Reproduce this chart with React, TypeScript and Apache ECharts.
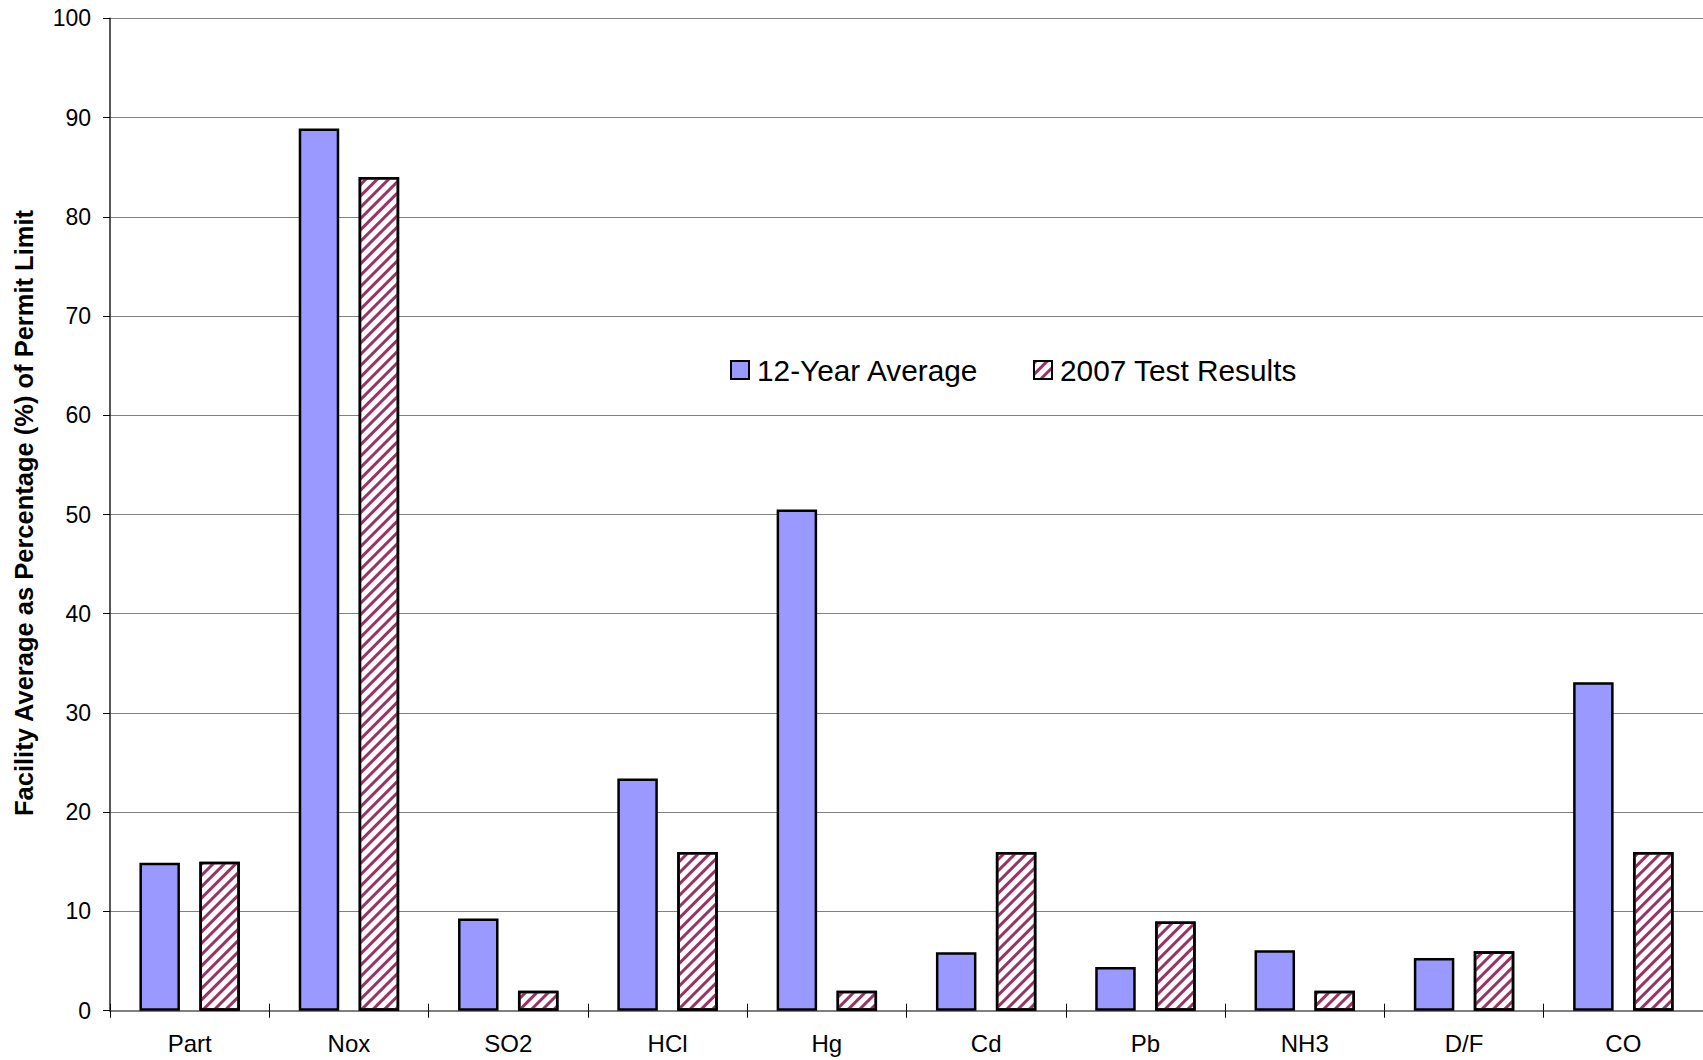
import React, { useEffect, useRef } from "react";
import * as echarts from "echarts";

const categories = ["Part", "Nox", "SO2", "HCl", "Hg", "Cd", "Pb", "NH3", "D/F", "CO"];
const avg12Year = [14.9, 88.9, 9.3, 23.4, 50.5, 5.9, 4.4, 6.1, 5.3, 33.1];
const test2007 = [15.0, 84.0, 2.0, 16.0, 2.0, 16.0, 9.0, 2.0, 6.0, 16.0];
const seriesNames = ["12-Year Average", "2007 Test Results"];
const yAxisTitle = "Facility Average as Percentage (%) of Permit Limit";
const yMin = 0;
const yMax = 100;
const yInterval = 10;

const FONT = '"Liberation Sans", Arial, sans-serif';

export default function App() {
  const ref = useRef<HTMLDivElement>(null);

  useEffect(() => {
    if (!ref.current) return;
    const chart = echarts.init(ref.current, null, { renderer: "svg" });
    const legendText = { fontSize: 29.8, color: "#000", fontFamily: FONT, padding: [0, 0, 0, 3] };
    const option: any = {
      animation: false,
      backgroundColor: "#ffffff",
      textStyle: { fontFamily: FONT, color: "#000" },
      grid: { left: 110, right: -3, top: 18.3, bottom: 49.3, containLabel: false },
      legend: [
        {
          data: [seriesNames[0]],
          left: 730,
          top: 355,
          padding: 0,
          itemWidth: 18,
          itemHeight: 18,
          icon: "rect",
          textStyle: legendText,
        },
        {
          data: [seriesNames[1]],
          left: 1033,
          top: 355,
          padding: 0,
          itemWidth: 18,
          itemHeight: 18,
          icon: "rect",
          textStyle: legendText,
        },
      ],
      xAxis: [
        {
          type: "category",
          data: categories,
          position: "bottom",
          axisLine: { show: true, lineStyle: { color: "#808080", width: 2 } },
          axisTick: { show: true, inside: false, length: 7, alignWithLabel: false, lineStyle: { color: "#000", width: 1 } },
          axisLabel: { show: true, fontSize: 24, color: "#000", margin: 21, fontFamily: FONT },
          splitLine: { show: false },
        },
        {
          type: "category",
          data: categories,
          position: "bottom",
          axisLine: { show: false },
          axisTick: { show: true, inside: true, length: 7, alignWithLabel: false, lineStyle: { color: "#000", width: 1 } },
          axisLabel: { show: false },
          splitLine: { show: false },
        },
      ],
      yAxis: {
        type: "value",
        min: yMin,
        max: yMax,
        interval: yInterval,
        axisLine: { show: true, lineStyle: { color: "#222", width: 1.5 } },
        axisTick: { show: true, inside: false, length: 7, lineStyle: { color: "#000", width: 1 } },
        axisLabel: { fontSize: 23, color: "#000", margin: 19, fontFamily: FONT },
        splitLine: { show: true, lineStyle: { color: "#808080", width: 1.2 } },
      },
      graphic: [
        {
          type: "text",
          x: 24,
          y: 513,
          rotation: Math.PI / 2,
          style: {
            text: yAxisTitle,
            fontSize: 25.5,
            fontWeight: "bold",
            fontFamily: FONT,
            fill: "#000",
            align: "center",
            verticalAlign: "middle",
          },
        },
      ],
      series: [
        {
          name: seriesNames[0],
          type: "bar",
          xAxisIndex: 0,
          data: avg12Year,
          barWidth: 40.5,
          barGap: "48%",
          itemStyle: { color: "#9999FF", borderColor: "#000", borderWidth: 2.5 },
        },
        {
          name: seriesNames[1],
          type: "bar",
          xAxisIndex: 0,
          data: test2007,
          barWidth: 40.5,
          barGap: "48%",
          itemStyle: {
            color: "#ffffff",
            borderColor: "#000",
            borderWidth: 2.5,
            decal: {
              symbol: "rect",
              symbolSize: 1,
              color: "#993366",
              dashArrayX: [1, 0],
              dashArrayY: [3, 5],
              rotation: -Math.PI / 4,
            },
          },
        },
      ],
    };
    chart.setOption(option);
    return () => {
      chart.dispose();
    };
  }, []);

  return (
    <div
      ref={ref}
      style={{ position: "fixed", left: 0, top: 0, width: 1703, height: 1060, background: "#fff" }}
    />
  );
}
